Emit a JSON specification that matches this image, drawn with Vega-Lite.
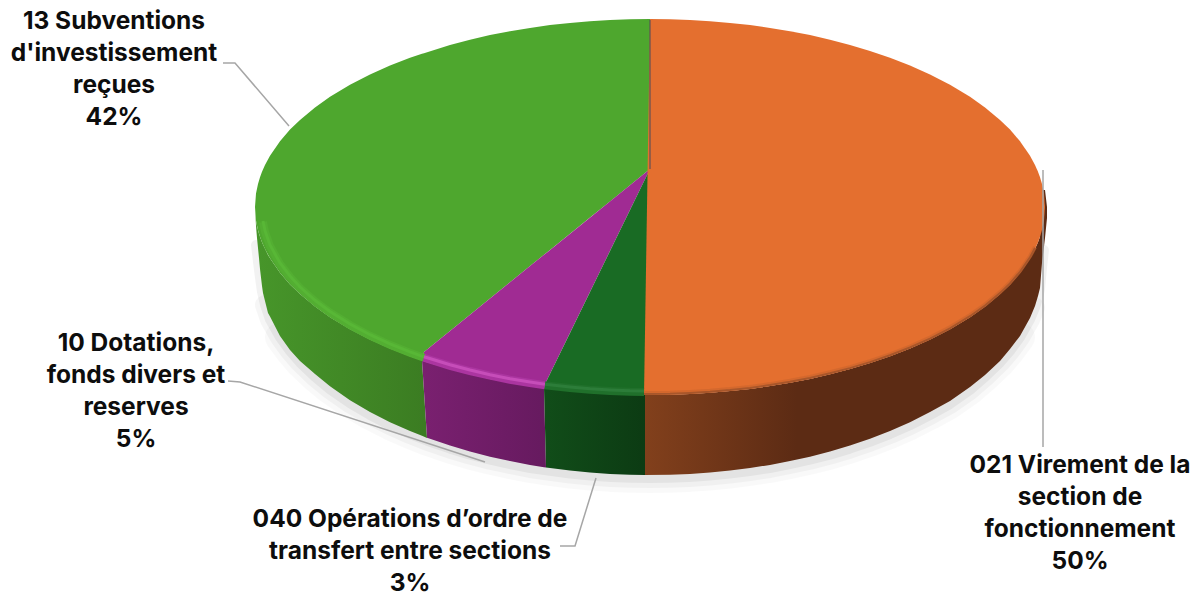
{"$schema":"https://vega.github.io/schema/vega-lite/v6.json","width":1203,"height":596,"padding":0,"autosize":{"type":"none"},"background":"#ffffff","config":{"view":{"stroke":null}},
"datasets":{
"outline":[{"x":256,"y":245},{"x":258,"y":262},{"x":260,"y":278},{"x":262,"y":292},{"x":265,"y":305},{"x":270,"y":319.6},{"x":280,"y":337.3},{"x":290,"y":351},{"x":300,"y":362.6},{"x":315,"y":377},{"x":330,"y":389.3},{"x":350,"y":403.2},{"x":370,"y":415},{"x":390,"y":425.2},{"x":410,"y":434},{"x":427,"y":440.7},{"x":450,"y":448.6},{"x":470,"y":454.6},{"x":490,"y":459.7},{"x":510,"y":464},{"x":530,"y":468},{"x":546,"y":470.4},{"x":570,"y":473.6},{"x":590,"y":475.5},{"x":610,"y":476.9},{"x":630,"y":477.7},{"x":650,"y":478},{"x":670,"y":477.7},{"x":690,"y":476.9},{"x":710,"y":475.5},{"x":730,"y":473.6},{"x":750,"y":471},{"x":770,"y":468},{"x":790,"y":464},{"x":810,"y":459.7},{"x":830,"y":454.6},{"x":850,"y":448.6},{"x":870,"y":441.8},{"x":890,"y":434},{"x":910,"y":425.2},{"x":930,"y":415},{"x":950,"y":404},{"x":970,"y":390},{"x":985,"y":377},{"x":1000,"y":362.6},{"x":1010,"y":351},{"x":1020,"y":337.3},{"x":1030,"y":319.6},{"x":1035,"y":307.5},{"x":1038,"y":298},{"x":1040,"y":289},{"x":1042,"y":268},{"x":1044,"y":250}],
"sideGreen":[{"x":255,"y":207,"y2":207},{"x":256,"y":220.4,"y2":226},{"x":257,"y":226,"y2":238},{"x":258,"y":230.1,"y2":248},{"x":259,"y":233.7,"y2":258},{"x":260,"y":236.8,"y2":269},{"x":262,"y":242.2,"y2":286},{"x":263,"y":244.5,"y2":293},{"x":268,"y":255,"y2":313},{"x":270,"y":258.3,"y2":316.6},{"x":280,"y":272.8,"y2":336},{"x":290,"y":284.4,"y2":350},{"x":300,"y":294.1,"y2":361},{"x":315,"y":306.6,"y2":374.1},{"x":330,"y":317.2,"y2":386.3},{"x":350,"y":329.3,"y2":400.2},{"x":370,"y":339.6,"y2":412},{"x":390,"y":348.5,"y2":422.2},{"x":410,"y":356.3,"y2":431},{"x":422,"y":360.5,"y2":435.8},{"x":427,"y":438,"y2":438}],
"sidePurple":[{"x":422,"y":360.5,"y2":360.5},{"x":427,"y":362.2,"y2":437.7},{"x":450,"y":369.1,"y2":445.6},{"x":470,"y":374.3,"y2":451.6},{"x":490,"y":378.9,"y2":456.7},{"x":510,"y":382.8,"y2":461.1},{"x":530,"y":386.1,"y2":464.9},{"x":544,"y":388.1,"y2":467.2},{"x":546,"y":467.4,"y2":467.4}],
"sideDark":[{"x":544,"y":388.1,"y2":388.1},{"x":546,"y":388.5,"y2":467.4},{"x":570,"y":391.1,"y2":470.6},{"x":590,"y":392.8,"y2":472.5},{"x":610,"y":394,"y2":473.9},{"x":630,"y":394.8,"y2":474.7},{"x":645,"y":395,"y2":475}],
"sideBrown":[{"x":644,"y":395,"y2":475},{"x":670,"y":394.8,"y2":474.7},{"x":690,"y":394,"y2":473.9},{"x":710,"y":392.8,"y2":472.5},{"x":730,"y":391.1,"y2":470.6},{"x":750,"y":388.9,"y2":468},{"x":770,"y":386.1,"y2":464.9},{"x":790,"y":382.8,"y2":461.1},{"x":810,"y":378.9,"y2":456.7},{"x":830,"y":374.3,"y2":451.6},{"x":850,"y":369.1,"y2":445.6},{"x":870,"y":363.1,"y2":438.8},{"x":890,"y":356.3,"y2":431},{"x":910,"y":348.5,"y2":422.2},{"x":930,"y":339.6,"y2":412},{"x":950,"y":329.3,"y2":401},{"x":970,"y":317.2,"y2":387},{"x":985,"y":306.6,"y2":375},{"x":1000,"y":294.1,"y2":361},{"x":1010,"y":284.4,"y2":349},{"x":1020,"y":272.8,"y2":336},{"x":1030,"y":258.3,"y2":318},{"x":1035,"y":249,"y2":306},{"x":1038,"y":242.2,"y2":296},{"x":1040,"y":236.8,"y2":288},{"x":1042,"y":190,"y2":263},{"x":1045,"y":190,"y2":238},{"x":1047,"y":207,"y2":218}],
"topGreen":[{"x":255,"y":207,"y2":207},{"x":256,"y":193.6,"y2":220.4},{"x":258,"y":183.9,"y2":230.1},{"x":260,"y":177.2,"y2":236.8},{"x":262,"y":171.8,"y2":242.2},{"x":265,"y":165,"y2":249},{"x":270,"y":155.7,"y2":258.3},{"x":280,"y":141.2,"y2":272.8},{"x":290,"y":129.6,"y2":284.4},{"x":300,"y":119.9,"y2":294.1},{"x":315,"y":107.4,"y2":306.6},{"x":330,"y":96.8,"y2":317.2},{"x":350,"y":84.7,"y2":329.3},{"x":370,"y":74.4,"y2":339.6},{"x":390,"y":65.5,"y2":348.5},{"x":410,"y":57.7,"y2":356.3},{"x":422,"y":53.8,"y2":360.5},{"x":424,"y":53.2,"y2":352},{"x":450,"y":44.9,"y2":331},{"x":470,"y":39.7,"y2":314.8},{"x":490,"y":35.1,"y2":298.6},{"x":510,"y":31.2,"y2":282.3},{"x":530,"y":27.9,"y2":266.1},{"x":550,"y":25.1,"y2":249.9},{"x":570,"y":22.9,"y2":233.8},{"x":590,"y":21.2,"y2":217.6},{"x":610,"y":20,"y2":201.4},{"x":630,"y":19.2,"y2":185.2},{"x":650,"y":19,"y2":169}],
"topPurple":[{"x":422,"y":360.5,"y2":360.5},{"x":424,"y":352,"y2":361.2},{"x":450,"y":331,"y2":369.1},{"x":470,"y":314.8,"y2":374.3},{"x":490,"y":298.6,"y2":378.9},{"x":510,"y":282.3,"y2":382.8},{"x":530,"y":266.1,"y2":386.1},{"x":544,"y":254.8,"y2":388.1},{"x":547,"y":252.4,"y2":380},{"x":650,"y":169,"y2":169}],
"topDark":[{"x":544,"y":388.1,"y2":388.1},{"x":547,"y":380,"y2":388.7},{"x":570,"y":333,"y2":391.1},{"x":590,"y":292,"y2":392.8},{"x":610,"y":251,"y2":394},{"x":630,"y":210,"y2":394.8},{"x":650,"y":169,"y2":395}],
"topOrange":[{"x":644,"y":395,"y2":395},{"x":650,"y":19,"y2":395},{"x":670,"y":19.2,"y2":394.8},{"x":690,"y":20,"y2":394},{"x":710,"y":21.2,"y2":392.8},{"x":730,"y":22.9,"y2":391.1},{"x":750,"y":25.1,"y2":388.9},{"x":770,"y":27.9,"y2":386.1},{"x":790,"y":31.2,"y2":382.8},{"x":810,"y":35.1,"y2":378.9},{"x":830,"y":39.7,"y2":374.3},{"x":850,"y":44.9,"y2":369.1},{"x":870,"y":50.9,"y2":363.1},{"x":890,"y":57.7,"y2":356.3},{"x":910,"y":65.5,"y2":348.5},{"x":930,"y":74.4,"y2":339.6},{"x":950,"y":84.7,"y2":329.3},{"x":970,"y":96.8,"y2":317.2},{"x":985,"y":107.4,"y2":306.6},{"x":1000,"y":119.9,"y2":294.1},{"x":1010,"y":129.6,"y2":284.4},{"x":1020,"y":141.2,"y2":272.8},{"x":1030,"y":155.7,"y2":258.3},{"x":1035,"y":165,"y2":249},{"x":1038,"y":171.8,"y2":242.2},{"x":1040,"y":177.2,"y2":236.8},{"x":1042,"y":183.9,"y2":230.1},{"x":1044,"y":193.6,"y2":220.4},{"x":1045,"y":207,"y2":207}],
"lightGreen":[{"x":263,"y":220},{"x":265,"y":229.7},{"x":270,"y":244},{"x":280,"y":262},{"x":290,"y":275},{"x":300,"y":286},{"x":315,"y":299.3},{"x":330,"y":310.5},{"x":350,"y":323},{"x":370,"y":333.7},{"x":390,"y":342.8},{"x":410,"y":350.8},{"x":424,"y":355.8}],
"lightPurple":[{"x":424,"y":355.8},{"x":450,"y":363.8},{"x":470,"y":369},{"x":490,"y":373.7},{"x":510,"y":377.7},{"x":530,"y":381},{"x":545,"y":383.2}],
"lightDark":[{"x":545,"y":383.2},{"x":570,"y":386},{"x":590,"y":387.8},{"x":610,"y":389},{"x":630,"y":389.8},{"x":644,"y":390}],
"rimOrange":[{"x":644,"y":394},{"x":670,"y":393.8},{"x":690,"y":393},{"x":710,"y":391.8},{"x":730,"y":390.1},{"x":750,"y":387.9},{"x":770,"y":385.1},{"x":790,"y":381.8},{"x":810,"y":377.9},{"x":830,"y":373.3},{"x":850,"y":368.1},{"x":870,"y":362.1},{"x":890,"y":355.3},{"x":910,"y":347.5},{"x":930,"y":338.6},{"x":950,"y":328.3},{"x":970,"y":316.2},{"x":985,"y":305.6},{"x":1000,"y":293.1},{"x":1010,"y":283.4},{"x":1020,"y":271.8},{"x":1030,"y":257.3},{"x":1035,"y":248}],
"seam":[{"x":650,"y":20},{"x":650,"y":169}],
"leader13":[{"x":223,"y":63},{"x":235,"y":63},{"x":289,"y":126}],
"leader10":[{"x":228,"y":381},{"x":240,"y":382},{"x":485,"y":462}],
"leader040":[{"x":560,"y":546},{"x":575,"y":546},{"x":596,"y":478}],
"leader021":[{"x":1043,"y":170},{"x":1043,"y":447}],
"labels":[{"x":114,"y":21.5,"label":"13 Subventions\nd'investissement\nreçues\n42%","share":42},{"x":136,"y":343.5,"label":"10 Dotations,\nfonds divers et\nreserves\n5%","share":5},{"x":410,"y":520,"label":"040 Opérations d’ordre de\ntransfert entre sections\n3%","share":3},{"x":1080,"y":465.5,"label":"021 Virement de la\nsection de\nfonctionnement\n50%","share":50}]
},
"encoding":{"x":{"field":"x","type":"quantitative","scale":{"domain":[0,1203]},"axis":null},"y":{"field":"y","type":"quantitative","scale":{"domain":[0,596],"reverse":true},"axis":null}},
"layer":[
{"data":{"name":"outline"},"transform":[{"filter":"datum.x>=280 && datum.x<=1020"}],"mark":{"type":"line","stroke":"#000000","strokeWidth":30,"strokeOpacity":0.025,"strokeCap":"round","strokeJoin":"round"}},
{"data":{"name":"outline"},"transform":[{"filter":"datum.x>=265 && datum.x<=1035"}],"mark":{"type":"line","stroke":"#000000","strokeWidth":20,"strokeOpacity":0.035,"strokeCap":"round","strokeJoin":"round"}},
{"data":{"name":"outline"},"mark":{"type":"line","stroke":"#000000","strokeWidth":10,"strokeOpacity":0.05,"strokeCap":"round","strokeJoin":"round"}},
{"data":{"name":"leader10"},"mark":{"type":"line","stroke":"#a6a6a6","strokeWidth":1.5}},
{"data":{"name":"leader040"},"mark":{"type":"line","stroke":"#a6a6a6","strokeWidth":1.5}},
{"data":{"name":"sideBrown"},"mark":{"type":"area","orient":"vertical","color":{"x1":0,"x2":1,"y1":0,"y2":0,"gradient":"linear","stops":[{"offset":0,"color":"#82401c"},{"offset":0.38,"color":"#5c2b14"},{"offset":1,"color":"#5c2b14"}]}},"encoding":{"y2":{"field":"y2"}}},
{"data":{"name":"sideGreen"},"mark":{"type":"area","orient":"vertical","color":{"x1":0,"x2":1,"y1":0,"y2":0,"gradient":"linear","stops":[{"offset":0,"color":"#47962a"},{"offset":1,"color":"#3b7c22"}]}},"encoding":{"y2":{"field":"y2"}}},
{"data":{"name":"sidePurple"},"mark":{"type":"area","orient":"vertical","color":{"x1":0,"x2":1,"y1":0,"y2":0,"gradient":"linear","stops":[{"offset":0,"color":"#7a2070"},{"offset":1,"color":"#661a5f"}]}},"encoding":{"y2":{"field":"y2"}}},
{"data":{"name":"sideDark"},"mark":{"type":"area","orient":"vertical","color":{"x1":0,"x2":1,"y1":0,"y2":0,"gradient":"linear","stops":[{"offset":0,"color":"#114d19"},{"offset":1,"color":"#0c3b13"}]}},"encoding":{"y2":{"field":"y2"}}},
{"data":{"name":"topGreen"},"mark":{"type":"area","orient":"vertical","color":"#4ea72e"},"encoding":{"y2":{"field":"y2"}}},
{"data":{"name":"topPurple"},"mark":{"type":"area","orient":"vertical","color":"#a02b93"},"encoding":{"y2":{"field":"y2"}}},
{"data":{"name":"topDark"},"mark":{"type":"area","orient":"vertical","color":"#196b24"},"encoding":{"y2":{"field":"y2"}}},
{"data":{"name":"topOrange"},"mark":{"type":"area","orient":"vertical","color":"#e46f2f"},"encoding":{"y2":{"field":"y2"}}},
{"data":{"name":"rimOrange"},"mark":{"type":"line","stroke":"#c9642d","strokeWidth":4,"strokeOpacity":0.6,"yOffset":-1}},
{"data":{"name":"rimOrange"},"mark":{"type":"line","stroke":"#a8562a","strokeWidth":2}},
{"data":{"name":"lightGreen"},"mark":{"type":"line","stroke":"#53ae32","strokeWidth":8,"yOffset":2}},
{"data":{"name":"lightGreen"},"mark":{"type":"line","stroke":"#58b736","strokeWidth":3,"yOffset":1}},
{"data":{"name":"lightPurple"},"mark":{"type":"line","stroke":"#ab35a0","strokeWidth":8,"yOffset":2}},
{"data":{"name":"lightPurple"},"mark":{"type":"line","stroke":"#c64db9","strokeWidth":3,"yOffset":1}},
{"data":{"name":"lightDark"},"mark":{"type":"line","stroke":"#20702b","strokeWidth":8,"yOffset":2}},
{"data":{"name":"lightDark"},"mark":{"type":"line","stroke":"#2c7d39","strokeWidth":3,"yOffset":1}},
{"data":{"name":"seam"},"mark":{"type":"line","stroke":"#4a4a5a","strokeWidth":1}},
{"data":{"name":"leader13"},"mark":{"type":"line","stroke":"#a6a6a6","strokeWidth":1.5}},
{"data":{"name":"leader021"},"mark":{"type":"line","stroke":"#a6a6a6","strokeWidth":1.5}},
{"data":{"name":"labels"},"mark":{"type":"text","font":"Inter","fontWeight":"bold","fontSize":24.5,"lineHeight":32,"lineBreak":"\n","align":"center","baseline":"middle","color":"#0d0d0d"},"encoding":{"text":{"field":"label"}}}
]}
